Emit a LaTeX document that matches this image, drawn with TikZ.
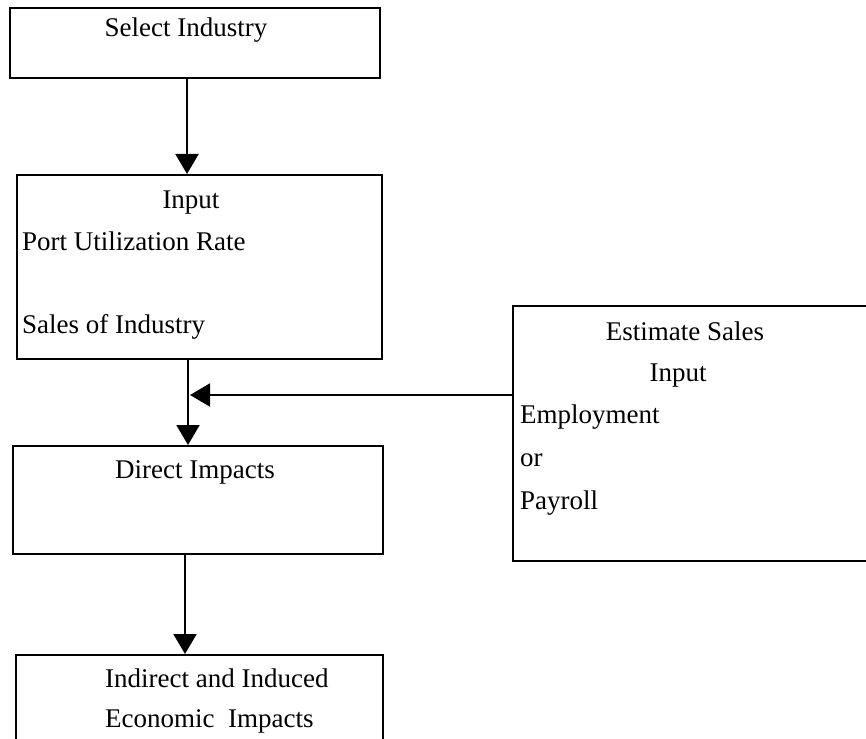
\documentclass[tikz,border=0pt]{standalone}
\usepackage{fontspec}
\setmainfont{Liberation Serif}
\usepackage{tikz}
\usetikzlibrary{arrows.meta}
\usetikzlibrary{positioning}

\tikzset{
    box/.style={draw, rectangle, line width=2pt, inner sep=0pt, anchor=north west},
    txt/.style={inner sep=0pt, font=\fontsize{27}{30}\selectfont},
    flow/.style={-{Triangle[width=23pt,length=20pt]}, line width=2pt}
}

\begin{document}
\begin{tikzpicture}[x=1pt, y=-1pt]
        \clip (0,0) rectangle (866,738);
        \useasboundingbox (0,0) rectangle (866,738);

        % Boxes
        \node[box, minimum width=370pt, minimum height=70pt]  (sel) at (9,7)    {};
        \node[box, minimum width=365pt, minimum height=184pt] (inp) at (16,174) {};
        \node[box, minimum width=370pt, minimum height=108pt] (dir) at (12,445) {};
        \node[box, minimum width=367pt, minimum height=120pt] (ind) at (15,654) {};
        \node[box, minimum width=380pt, minimum height=255pt] (est) at (512,305) {};

        % Texts
        \node[txt, anchor=base] (selt) at (186,37) {Select Industry};
        \node[txt, anchor=base] (inpt) at (191,208) {Input};
        \node[txt, anchor=base west] (port) at (22,250) {Port Utilization Rate};
        \node[txt, anchor=base west] (sales) at (22,333) {Sales of Industry};
        \node[txt, anchor=base] (dirt) at (195,478) {Direct Impacts};
        \node[txt, anchor=base west] (indt) at (105,687) {Indirect and Induced};
        \node[txt, anchor=base west] (econ) at (105,727) {Economic~ Impacts};
        \node[txt, anchor=base] (estt) at (685,340) {Estimate Sales};
        \node[txt, anchor=base] (esti) at (678,381) {Input};
        \foreach \y/\word/\name in {423/Employment/emp, 466/or/ort, 509/Payroll/pay} {
            \node[txt, anchor=base west] (\name) at (520,\y) {\word};
        }

        % Connectors
        \draw[flow] ([xshift=178pt]sel.south west) -- ([xshift=171pt]inp.north west);
        \draw[flow] ([xshift=172pt]inp.south west) -- ([xshift=176pt]dir.north west);
        \draw[flow] ([xshift=173pt]dir.south west) -- ([xshift=170pt]ind.north west);
        \coordinate (tap) at ([yshift=-90pt]est.north west);
        \coordinate (mid) at ([xshift=174pt]inp.south west);
        \draw[flow] (tap) -- (tap -| mid);
    \end{tikzpicture}
\end{document}
